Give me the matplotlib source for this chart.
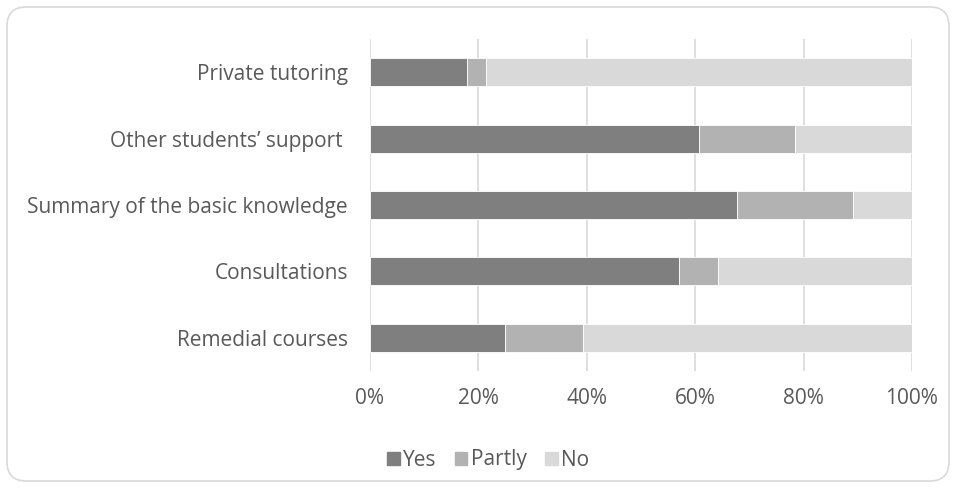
import matplotlib

matplotlib.use("Agg")
import matplotlib.pyplot as plt
from matplotlib.patches import FancyBboxPatch, Patch
from matplotlib.ticker import PercentFormatter

# categories listed bottom to top (barh draws from the bottom)
categories = [
    "Remedial courses",
    "Consultations",
    "Summary of the basic knowledge",
    "Other students\u2019 support ",
    "Private tutoring",
]
yes = [24.9, 57.0, 67.8, 60.7, 17.9]
partly = [14.4, 7.2, 21.4, 17.8, 3.5]
no = [60.7, 35.8, 10.8, 21.5, 78.6]

series = [("Yes", yes, "#7f7f7f"), ("Partly", partly, "#b2b2b2"), ("No", no, "#d9d9d9")]
TEXT = "#595959"
FS = 15

plt.rcParams["font.family"] = ["Open Sans", "DejaVu Sans"]

fig = plt.figure(figsize=(9.56, 4.88), dpi=100)
ax = fig.add_axes([370 / 956, 1 - 371 / 488, 542 / 956, 332 / 488])

left = [0.0] * len(categories)
for name, values, color in series:
    ax.barh(categories, values, left=left, height=0.42, color=color,
            edgecolor="white", linewidth=0.6, label=name, zorder=3)
    left = [a + b for a, b in zip(left, values)]

ax.set_xlim(0, 100)
ax.set_ylim(-0.5, len(categories) - 0.5)
ax.set_xticks([0, 20, 40, 60, 80, 100])
ax.xaxis.set_major_formatter(PercentFormatter(decimals=0))
ax.grid(axis="x", color="#d9d9d9", linewidth=1.2, zorder=0)
for spine in ax.spines.values():
    spine.set_visible(False)
ax.tick_params(length=0, labelsize=FS, colors=TEXT)
ax.tick_params(axis="x", pad=12.5)
ax.tick_params(axis="y", pad=16)

handles = [Patch(color=c, label=n) for n, _, c in series]
fig.legend(handles=handles, loc="center", bbox_to_anchor=(488 / 956, 1 - 460 / 488),
           ncol=3, frameon=False, fontsize=FS, handlelength=0.6, handleheight=0.6,
           handletextpad=0.15, columnspacing=0.9, labelcolor=TEXT)

border = FancyBboxPatch((7 / 956, 7 / 488), 942 / 956, 474 / 488,
                        boxstyle="round,pad=0,rounding_size=0.02",
                        transform=fig.transFigure, facecolor="none",
                        edgecolor="#d9d9d9", linewidth=1.2, mutation_aspect=956 / 488)
fig.patches.append(border)

fig.savefig("out.png", dpi=100)
